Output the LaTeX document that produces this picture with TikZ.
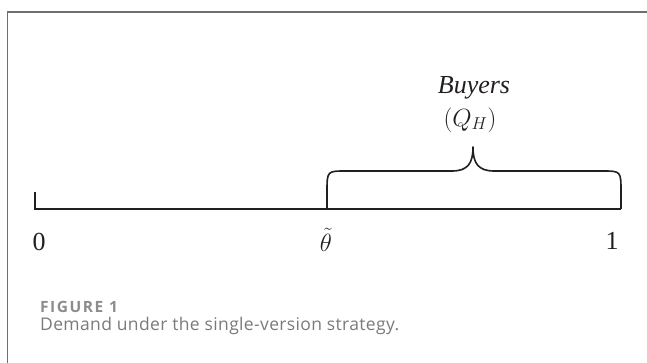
\documentclass[tikz,border=0pt]{standalone}
\usepackage{fontspec}
\setmainfont{Liberation Serif}
\newfontfamily\capfont[LetterSpace=2]{Open Sans}
\newfontfamily\figfont[LetterSpace=10]{Open Sans}
\usetikzlibrary{positioning}
\definecolor{inkdark}{HTML}{231F20}
\definecolor{framegray}{HTML}{6E6E6E}
\definecolor{capgray}{HTML}{7A7A7A}
\definecolor{figgray}{HTML}{8C8C8C}

\begin{document}
\begin{tikzpicture}[x=1pt,y=-1pt,
  axisline/.style={draw=inkdark,line width=1.6pt},
  lbl/.style={inner sep=0pt,text=inkdark,font=\fontsize{26}{30}\selectfont},
  capline/.style={inner sep=0pt,anchor=west}
]
\useasboundingbox (0,0) rectangle (647,363);
% frame
\draw[framegray,line width=1.3pt] (7.5,363) -- (7.5,12) -- (647,12);

% axis
\coordinate (tick) at (35,192);
\coordinate (zero) at (35,209);
\coordinate (thetapt) at (327,209);
\coordinate (one) at (621,209);
\draw[axisline] (tick) -- (zero) -- (one);

% brace over the buyers
\coordinate (tip) at (473,147);
\draw[axisline,line join=round] (thetapt) -- (327,192) .. controls (327,171) .. (346,171) -- (452,171)
  .. controls (468,171) and (473,163) .. (tip)
  .. controls (473,163) and (478,171) .. (494,171) -- (602,171)
  .. controls (621,171) .. (621,192) -- (one);

\node[lbl] (l0) at (39,242) {0};
\node[lbl] (lth) at (326,240) {$\tilde{\theta}$};
\node[lbl] (l1) at (612,241) {1};
\node[lbl] (buy) at (474,88) {\textit{Buyers}};
\node[lbl] (qh) at (470,120) {$(Q_H)$};

% caption
\node[capline,text=figgray,font=\figfont\bfseries\fontsize{15.5}{18}\selectfont] (fig) at (40,307) {FIGURE 1};
\node[capline,text=capgray,font=\capfont\fontsize{17.5}{20}\selectfont] (cap) at (40,326) {Demand under the single-version strategy.};
\end{tikzpicture}
\end{document}
